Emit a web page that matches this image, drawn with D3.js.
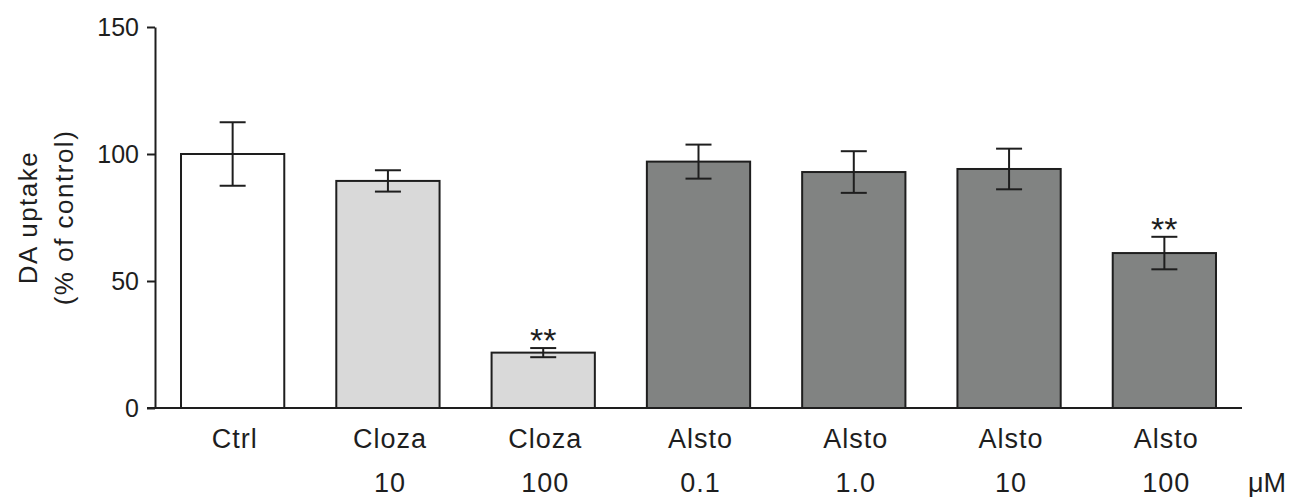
<!DOCTYPE html>
<html>
<head>
<meta charset="utf-8">
<script src="https://cdn.jsdelivr.net/npm/d3@7"></script>
<style>
  body { margin: 0; background: #fff; }
  svg { display: block; font-family: "Liberation Sans", Arial, sans-serif; }
</style>
</head>
<body>
<svg id="chart" width="1298" height="497"></svg>
<script>
// data
const drugs = ["Ctrl", "Cloza", "Cloza", "Alsto", "Alsto", "Alsto", "Alsto"]
const doses = ["", "10", "100", "0.1", "1.0", "10", "100"]
const uptake = [100, 89.4, 21.8, 97.0, 92.9, 94.1, 61.0]
const sem = [12.5, 4.2, 1.8, 6.7, 8.2, 8.0, 6.4]
const signif = ["", "", "**", "", "", "", "**"]
const groups = ["ctrl", "cloza", "cloza", "alsto", "alsto", "alsto", "alsto"]
const yTicks = [0, 50, 100, 150]

const fills = { ctrl: "#ffffff", cloza: "#d9d9d9", alsto: "#818382" }
const ink = "#1e1e1e"

const svg = d3.select("#chart")
const ids = d3.range(uptake.length)

const x = d3.scaleBand()
  .domain(ids)
  .range([155, 1242])
  .paddingInner(0.335)
  .paddingOuter(0.1675)

const y = d3.scaleLinear()
  .domain([0, 150])
  .range([408, 27])

// y axis
const yAxis = svg.append("g")
  .attr("transform", "translate(155,0)")
  .call(d3.axisLeft(y).tickValues(yTicks).tickSize(8).tickSizeOuter(0).tickPadding(8))
yAxis.selectAll("path, line").attr("stroke", ink).attr("stroke-width", 2)
yAxis.selectAll("text")
  .attr("fill", ink)
  .style("font-size", "25px")
  .style("font-family", "Liberation Sans, Arial, sans-serif")

// y label, two lines
const ylab = svg.append("g")
  .attr("transform", `translate(0,${(y(0) + y(150)) / 2}) rotate(-90)`)
  .attr("text-anchor", "middle")
  .attr("fill", ink)
  .style("font-size", "26px")
ylab.append("text").attr("y", 37).style("letter-spacing", "1.5px").text("DA uptake")
ylab.append("text").attr("y", 73).style("letter-spacing", "1.5px").text("(% of control)")

// bars
svg.append("g").selectAll("rect")
  .data(ids)
  .join("rect")
  .attr("x", i => x(i))
  .attr("y", i => y(uptake[i]))
  .attr("width", x.bandwidth())
  .attr("height", i => y(0) - y(uptake[i]))
  .attr("fill", i => fills[groups[i]])
  .attr("stroke", ink)
  .attr("stroke-width", 2)

// x axis baseline
svg.append("line")
  .attr("x1", 147).attr("x2", 1242)
  .attr("y1", y(0)).attr("y2", y(0))
  .attr("stroke", ink).attr("stroke-width", 2)

// error bars
const cap = 13
const err = svg.append("g").attr("stroke", ink).attr("stroke-width", 2)
ids.forEach(i => {
  const cx = x(i) + x.bandwidth() / 2
  const top = y(uptake[i] + sem[i]), bot = y(uptake[i] - sem[i])
  err.append("line").attr("x1", cx).attr("x2", cx).attr("y1", top).attr("y2", bot)
  err.append("line").attr("x1", cx - cap).attr("x2", cx + cap).attr("y1", top).attr("y2", top)
  err.append("line").attr("x1", cx - cap).attr("x2", cx + cap).attr("y1", bot).attr("y2", bot)
})

// significance stars
svg.append("g").selectAll("text")
  .data(ids.filter(i => signif[i]))
  .join("text")
  .attr("x", i => x(i) + x.bandwidth() / 2)
  .attr("y", i => y(uptake[i] + sem[i]) + 4)
  .attr("text-anchor", "middle")
  .attr("fill", ink)
  .style("font-size", "34px")
  .text(i => signif[i])

// category labels
const lab = svg.append("g").attr("text-anchor", "middle").attr("fill", ink).style("font-size", "27px")
lab.selectAll("text.drug")
  .data(ids)
  .join("text")
  .attr("class", "drug")
  .attr("x", i => x(i) + x.bandwidth() / 2 + 2)
  .attr("y", 448)
  .style("letter-spacing", "1px")
  .text(i => drugs[i])
lab.selectAll("text.dose")
  .data(ids)
  .join("text")
  .attr("class", "dose")
  .attr("x", i => x(i) + x.bandwidth() / 2 + 2)
  .attr("y", 492)
  .style("letter-spacing", "1px")
  .text(i => doses[i])

svg.append("text")
  .attr("x", 1248).attr("y", 492)
  .attr("fill", ink)
  .style("font-size", "27px")
  .text("μM")
</script>
</body>
</html>
